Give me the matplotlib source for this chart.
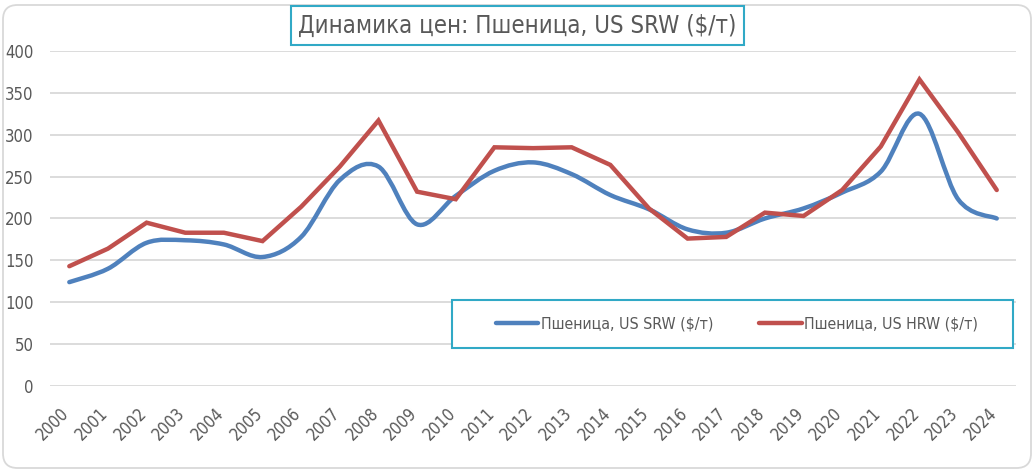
import numpy as np
import matplotlib
matplotlib.use("Agg")
import matplotlib.pyplot as plt
from matplotlib import font_manager
from matplotlib.path import Path
from matplotlib.patches import PathPatch, Rectangle, FancyBboxPatch
from matplotlib.lines import Line2D
from matplotlib.transforms import ScaledTranslation

years = [str(y) for y in range(2000, 2025)]
srw = [124, 140, 171, 174, 169, 154, 178, 246, 262, 193, 227, 257, 267, 253,
       228, 211, 187, 183, 200, 212, 231, 256, 325, 223, 200]
hrw = [143, 164, 195, 183, 183, 173, 214, 262, 317, 232, 223, 285, 284, 285,
       264, 212, 176, 178, 207, 203, 234, 286, 366, 303, 234]

title = "Динамика цен: Пшеница, US SRW ($/т)"
label_srw = "Пшеница, US SRW ($/т)"
label_hrw = "Пшеница, US HRW ($/т)"

BLUE = "#4F81BD"
RED = "#C0504D"
TEAL = "#31A9C6"
GRAY_TXT = "#595959"
GRID = "#D9D9D9"

# look for a narrow sans (chart was made with Arial Narrow)
narrow = None
for f in font_manager.fontManager.ttflist:
    if ("Narrow" in f.name or "Condensed" in f.name
            or f.stretch in ("condensed", "semi-condensed")) \
            and f.style == "normal" and f.weight in (400, "normal", "regular"):
        narrow = f
        break

if narrow is not None:
    font_manager.fontManager.addfont(narrow.fname)
    plt.rcParams["font.family"] = [narrow.name, "DejaVu Sans"]
    plt.rcParams["font.stretch"] = narrow.stretch
    fs_title, fs_tick, fs_leg = 17.2, 12, 11.4
else:
    plt.rcParams["font.family"] = ["Liberation Sans", "DejaVu Sans"]
    fs_title, fs_tick, fs_leg = 16, 11.5, 11.5


def smooth_path(xs, ys):
    # Excel-style smoothed line: cubic Bezier through every point
    pts = np.column_stack([xs, ys]).astype(float)
    n = len(pts)
    verts = [pts[0]]
    codes = [Path.MOVETO]
    for i in range(n - 1):
        p0 = pts[max(i - 1, 0)]
        p1 = pts[i]
        p2 = pts[i + 1]
        p3 = pts[min(i + 2, n - 1)]
        c1 = p1 + (p2 - p0) / 6.0
        c2 = p2 - (p3 - p1) / 6.0
        verts += [c1, c2, p2]
        codes += [Path.CURVE4] * 3
    return Path(verts, codes)


fig = plt.figure(figsize=(10.35, 4.74), dpi=100)
ax = fig.add_axes([0.0483, 0.1857, 0.9334, 0.7067])

x = np.arange(len(years))

ax.add_patch(PathPatch(smooth_path(x, srw), facecolor="none", edgecolor=BLUE,
                       lw=3.2, capstyle="round", joinstyle="round", zorder=3))
ax.plot(x, hrw, color=RED, lw=3.2, solid_capstyle="round",
        solid_joinstyle="miter", zorder=4)

ax.set_xlim(-0.5, len(years) - 0.5)
ax.set_ylim(0, 400)
ax.set_yticks(range(0, 401, 50))
ax.set_xticks(x)
ax.set_xticklabels(years, rotation=45, ha="right", va="top",
                   rotation_mode="anchor")
ax.tick_params(axis="both", length=0, labelsize=fs_tick, colors=GRAY_TXT)
ax.tick_params(axis="y", pad=12)
ax.tick_params(axis="x", pad=13)
# nudge the slanted year labels left, like Excel places them
shift = ScaledTranslation(-9 / 100, 0, fig.dpi_scale_trans)
for lbl in ax.get_xticklabels():
    lbl.set_transform(lbl.get_transform() + shift)
ax.grid(axis="y", color=GRID, lw=1.3)
ax.set_axisbelow(True)
for s in ax.spines.values():
    s.set_visible(False)

# title in a framed box
fig.text(0.5, 0.946, title, ha="center", va="center", fontsize=fs_title,
         color=GRAY_TXT,
         bbox=dict(boxstyle="square,pad=0.3", facecolor="white",
                   edgecolor=TEAL, lw=1.5))

# legend box
fig.patches.append(Rectangle((452 / 1035, 1 - 348 / 474), 561 / 1035, 48 / 474,
                             transform=fig.transFigure, facecolor="white",
                             edgecolor=TEAL, lw=1.5, zorder=5))
handles = [Line2D([], [], color=BLUE, lw=3.2, solid_capstyle="round"),
           Line2D([], [], color=RED, lw=3.2, solid_capstyle="round")]
leg = fig.legend(handles, [label_srw, label_hrw], loc="center",
                 bbox_to_anchor=(737 / 1035, 1 - 324 / 474), ncol=2,
                 frameon=False, fontsize=fs_leg, handlelength=2.7,
                 handletextpad=0.15, columnspacing=2.9, labelcolor=GRAY_TXT)
leg.set_zorder(6)

# rounded outer border
fig.patches.append(FancyBboxPatch((3 / 1035, 6 / 474), 1028 / 1035, 463 / 474,
                                  boxstyle="round,pad=0,rounding_size=0.014",
                                  transform=fig.transFigure, facecolor="none",
                                  edgecolor=GRID, lw=1.3, zorder=0,
                                  mutation_aspect=1035 / 474))

fig.savefig("out.png", dpi=100)
